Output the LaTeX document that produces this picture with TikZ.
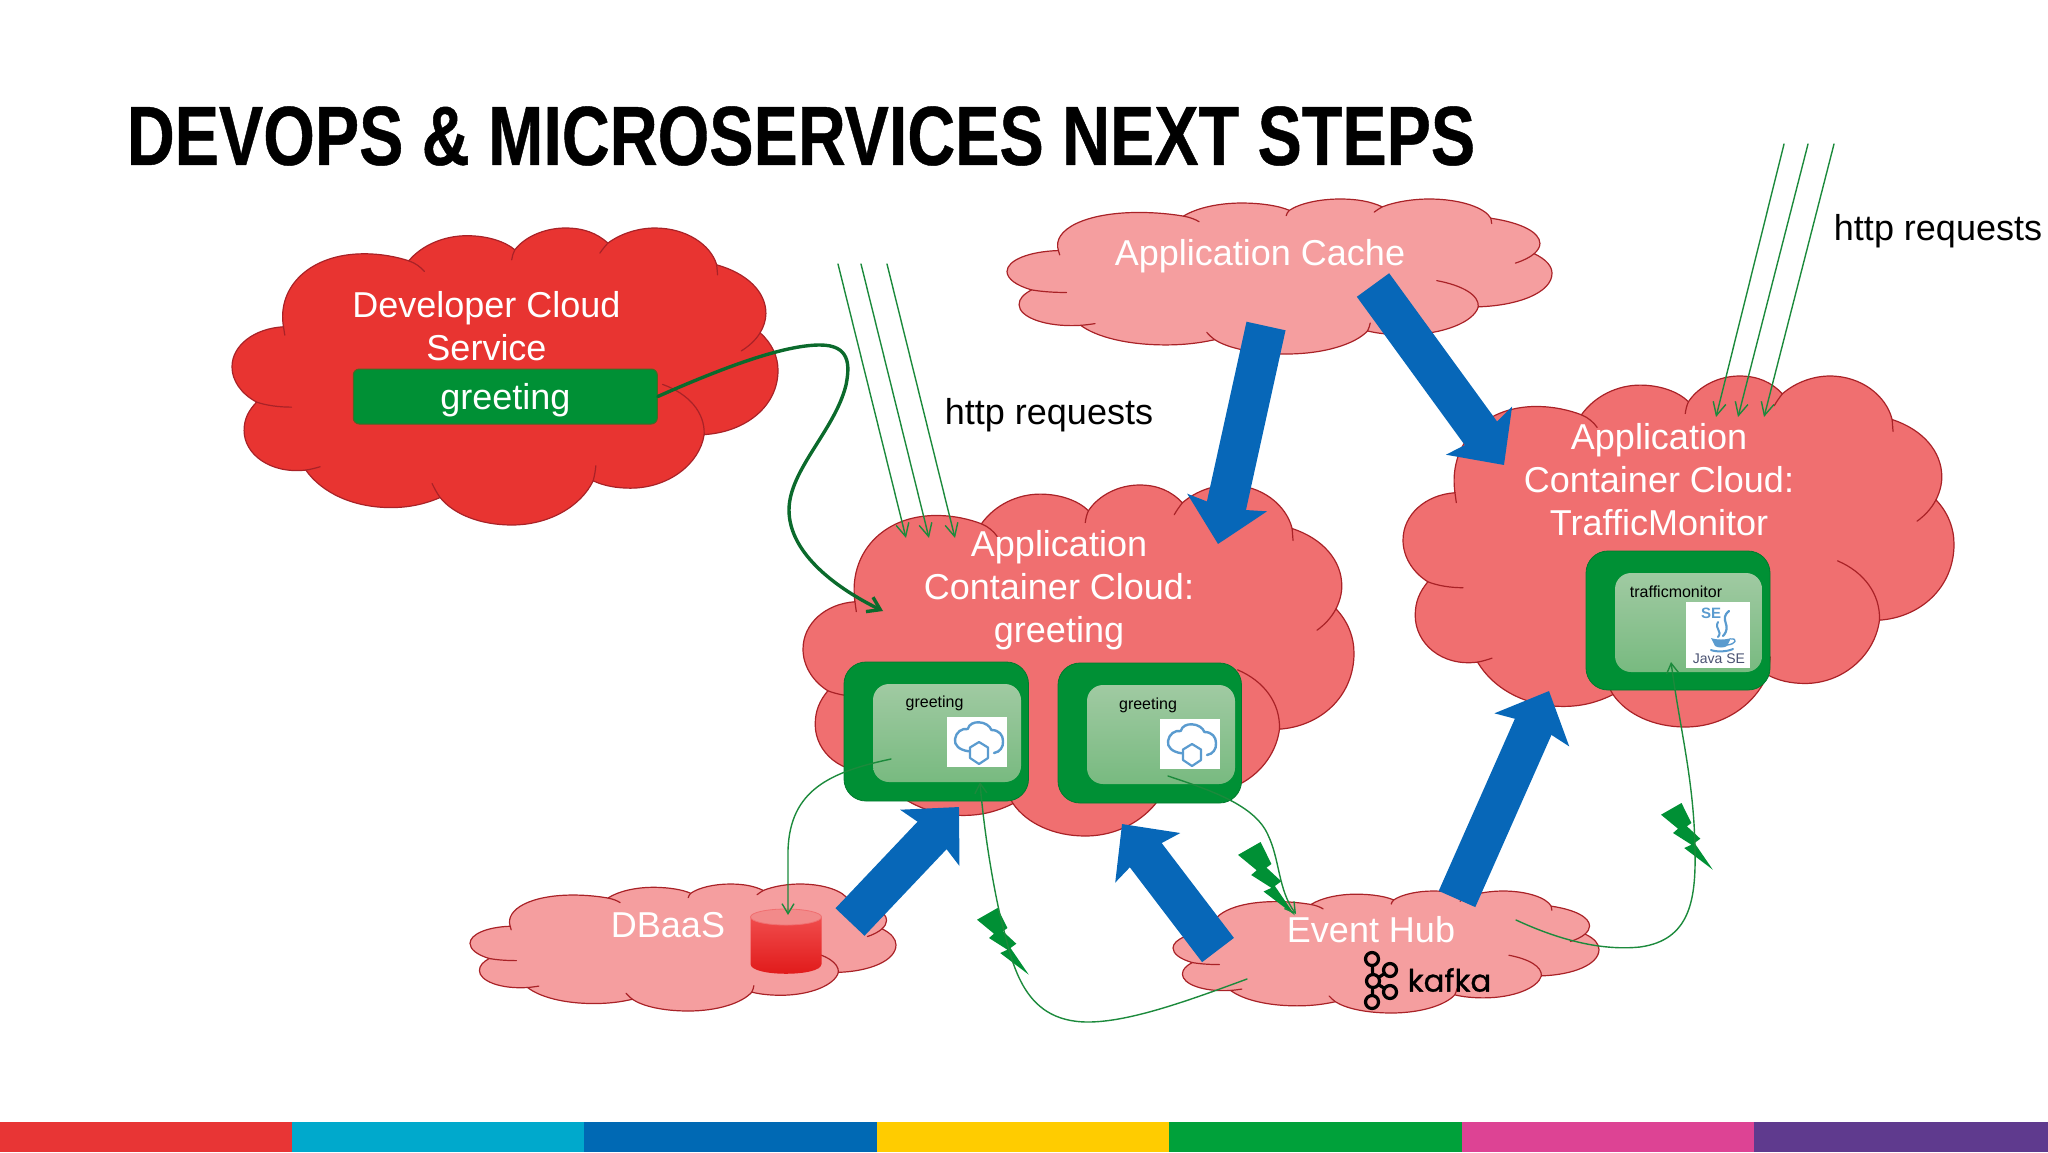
\documentclass[tikz,border=0pt]{standalone}
\usepackage{fontspec}
\setmainfont{Liberation Sans}
\newfontfamily\titlefont[FakeStretch=0.79,BoldFeatures={FakeBold=0.5}]{Liberation Sans}
\newfontfamily\kafkafont[FakeBold=1]{Poppins}
\usepackage{xcolor}
\usetikzlibrary{arrows.meta}
\tikzset{>=latex}
\definecolor{myred}{HTML}{E83431}
\definecolor{mysalmon}{HTML}{F06F70}
\definecolor{mypale}{HTML}{F59E9F}
\definecolor{myedge}{HTML}{A92227}
\definecolor{mygreen}{HTML}{009035}
\definecolor{mydarkgreen}{HTML}{0B6A2C}
\definecolor{mythin}{HTML}{1C8A3C}
\definecolor{myblue}{HTML}{0767B8}
\definecolor{myicon}{HTML}{5A9BCF}
\definecolor{myinnertop}{HTML}{A0CAA2}
\definecolor{myinnerbottom}{HTML}{78BA80}
\definecolor{mybarrel}{HTML}{F04C4C}
\definecolor{mybarrelend}{HTML}{E01818}
\definecolor{mylid}{HTML}{F28A8A}
\definecolor{myjava}{HTML}{4A5272}

\begin{document}
\begin{tikzpicture}[x=0.5pt, y=-0.5pt,
                    line cap=round, line join=round,
                    cloudedge/.style={myedge, line width=0.6pt},
                    lightlabel/.style={white, font=\fontsize{18}{21.5}\selectfont, align=center, inner sep=0pt},
                    darklabel/.style={black, font=\fontsize{18}{21.5}\selectfont, inner sep=0pt},
                    smalllabel/.style={black, font=\fontsize{8}{9}\selectfont, inner sep=0pt},
                    bigarrow/.style={myblue, line width=20pt, line cap=butt, line join=miter,
                                     -{Stealth[width=40pt,length=21pt,inset=3pt]}},
                    httpline/.style={mythin, line width=0.7pt, -{Straight Barb[length=6.5pt,width=6.5pt]}},
                    eventline/.style={mythin, line width=0.7pt, -{Straight Barb[length=5pt,width=6pt]}},
                    deployline/.style={mydarkgreen, line width=1.7pt, -{Straight Barb[length=6pt,width=8pt]}},
                    outerbox/.style={draw=mygreen!85!black, line width=0.4pt, fill=mygreen, rounded corners=11pt},
                    innerbox/.style={top color=myinnertop, bottom color=myinnerbottom, rounded corners=8pt},
                    greenbar/.style={draw=mygreen!70!red, line width=0.5pt, fill=mygreen, rounded corners=3pt, minimum width=152pt,
                                     minimum height=27.5pt, inner sep=0pt, text depth=0pt, text=white, font=\fontsize{18}{21.5}\selectfont},
                    iconbox/.style={fill=white}]

  \def\drawCloud#1#2#3#4#5{ % left, top, width, height, fill
    \begin{scope}[shift={(#1,#2)}, xscale=#3/1220, yscale=#4/887, shift={(-75,-145)}]
      \draw[cloudedge,fill=#5] (130,665)
        .. controls (95,640) and (75,600) .. (75,560) .. controls (75,495) and (125,445) .. (190,440)
        .. controls (175,320) and (250,222) .. (370,222) .. controls (410,222) and (445,232) .. (470,243)
        .. controls (500,195) and (550,168) .. (600,168) .. controls (645,168) and (685,185) .. (707,210)
        .. controls (730,170) and (775,145) .. (820,145) .. controls (860,145) and (890,160) .. (915,190)
        .. controls (945,160) and (985,145) .. (1020,145) .. controls (1090,145) and (1145,195) .. (1158,255)
        .. controls (1225,280) and (1268,335) .. (1268,400) .. controls (1268,420) and (1263,440) .. (1255,458)
        .. controls (1282,490) and (1295,530) .. (1295,570) .. controls (1295,680) and (1220,755) .. (1130,762)
        .. controls (1120,850) and (1050,922) .. (965,922) .. controls (935,922) and (905,915) .. (882,900)
        .. controls (855,975) and (785,1032) .. (700,1032) .. controls (630,1032) and (570,1000) .. (540,950)
        .. controls (505,970) and (470,980) .. (430,980) .. controls (345,980) and (275,935) .. (240,868)
        .. controls (160,880) and (102,820) .. (102,750) .. controls (102,715) and (112,690) .. (130,665) -- cycle;
      % inner arcs of the lobes
      \draw[cloudedge] (190,440) -- (193,465);
      \draw[cloudedge] (470,243) .. controls (485,250) and (497,262) .. (505,275);
      \draw[cloudedge] (707,210) .. controls (703,220) and (701,230) .. (700,240);
      \draw[cloudedge] (915,190) .. controls (908,200) and (902,210) .. (897,220);
      \draw[cloudedge] (1158,255) -- (1160,285);
      \draw[cloudedge] (1255,458) .. controls (1245,480) and (1230,498) .. (1213,512);
      \draw[cloudedge] (1130,762) .. controls (1132,695) and (1095,640) .. (1037,612);
      \draw[cloudedge] (882,900) .. controls (885,885) and (887,870) .. (888,855);
      \draw[cloudedge] (540,950) .. controls (533,937) and (527,922) .. (522,908);
      \draw[cloudedge] (240,868) .. controls (250,866) and (262,862) .. (272,858);
      \draw[cloudedge] (130,665) .. controls (152,675) and (180,680) .. (208,680);
    \end{scope}
  }
  \def\drawBolt#1#2#3{ % left, top, size
    \fill[mygreen,shift={(#1,#2)},scale=#3] (0,11.7) -- (20.5,0) -- (30.4,20) -- (25.9,23.3) -- (39.3,35.7) -- (33.5,40)
      -- (51.8,66.7) -- (23.2,45) -- (30.4,41.7) -- (12,30) -- (17,25.7) -- cycle;
  }
  \def\drawCloudIcon#1#2{ % corner of the white square
    \begin{scope}[shift={(#1,#2)}]
      \fill[iconbox] (0,0) rectangle (59.5,50);
      \draw[myicon,line width=1.2pt] (21.8,34.3) .. controls (12,33) and (7,28) .. (8,22)
        .. controls (9,15) and (15,11) .. (20.7,12) .. controls (22,7) and (27,5) .. (32,5.3)
        .. controls (38,5.5) and (43,9) .. (44.4,13) .. controls (52,13) and (56,18) .. (56,24)
        .. controls (56.5,30) and (53,35) .. (47,36);
      \draw[myicon,line width=1.1pt] (32,25) -- (41,30.5) -- (41,41) -- (32,47) -- (23,41) -- (23,30.5) -- cycle;
    \end{scope}
  }

  % CLOUDS
  \drawCloud{232}{228}{546}{297}{myred}
  \drawCloud{1007}{199}{545}{155}{mypale}
  \drawCloud{803}{485}{551}{351}{mysalmon}
  \drawCloud{1403}{376}{551}{351}{mysalmon}
  \drawCloud{470}{884}{426}{127}{mypale}
  \drawCloud{1173}{891}{426}{122}{mypale}

  % CONTAINERS
  \draw[outerbox] (844,662) rectangle (1028.5,801);
  \path[innerbox] (873,684) rectangle (1021,782);
  \drawCloudIcon{947}{717}
  \draw[outerbox] (1058,663) rectangle (1241.5,803);
  \path[innerbox] (1087,685) rectangle (1235,784);
  \drawCloudIcon{1160}{719}
  \draw[outerbox] (1586,551) rectangle (1770,690);
  \path[innerbox] (1615,573) rectangle (1762,672);
  \fill[iconbox] (1686,602) rectangle (1750,668);

  % JAVA CUP
  \draw[myicon,line width=1.1pt] (1729,611) .. controls (1718,620) and (1733,625) .. (1723,636);
  \draw[myicon,line width=1pt] (1718,622) .. controls (1714,629) and (1723,631) .. (1718,637);
  \fill[myicon] (1711,638) .. controls (1716,640) and (1726,640) .. (1731,638) -- (1727,646) .. controls (1724,648) and (1718,648) .. (1715,646) -- cycle;
  \draw[myicon,line width=0.7pt] (1731,639) .. controls (1737,638) and (1737,644) .. (1727,645);
  \draw[myicon,line width=1pt] (1711,650) .. controls (1716,652) and (1726,652) .. (1733,649);

  % BIG ARROWS
  \coordinate (cacheOutA) at (1266,326);
  \coordinate (greetingIn) at (1218,544);
  \coordinate (cacheOutB) at (1373,285);
  \coordinate (trafficIn) at (1504,465);
  \coordinate (dbOut) at (850,922);
  \coordinate (boxAIn) at (959,807);
  \coordinate (hubOutA) at (1218,950);
  \coordinate (boxBIn) at (1122,824);
  \coordinate (hubOutB) at (1457,899);
  \coordinate (trafficBelow) at (1549,691);
  \draw[bigarrow] (cacheOutA) -- (greetingIn);
  \draw[bigarrow] (cacheOutB) -- (trafficIn);
  \draw[bigarrow] (dbOut) -- (boxAIn);
  \draw[bigarrow] (hubOutA) -- (boxBIn);
  \draw[bigarrow] (hubOutB) -- (trafficBelow);

  % DATABASE
  \coordinate (dbCenter) at (786,917);
  \path[top color=mybarrel, bottom color=mybarrelend] (750.5,917) -- (750.5,964)
    .. controls (750.5,977) and (821.5,977) .. (821.5,964) -- (821.5,917) -- cycle;
  \draw[fill=mylid, draw=mysalmon] (dbCenter) ellipse (35.5 and 8);

  % LABELS
  \node[lightlabel] (devLabel) at (486.5,326) {Developer Cloud\\Service};
  \node[greenbar] (devBar) at (505.3,396.5) {greeting};
  \node[lightlabel] (cacheLabel) at (1260,256) {Application Cache};
  \node[lightlabel] (greetingLabel) at (1059,590) {Application\\Container Cloud:\\greeting};
  \node[lightlabel] (trafficLabel) at (1659,480) {Application\\Container Cloud:\\TrafficMonitor};
  \node[lightlabel] (dbLabel) at (668,925) {DBaaS};
  \node[lightlabel] (hubLabel) at (1371,930) {Event Hub};
  \node[darklabel] (httpLabelA) at (1049,415) {http requests};
  \node[darklabel] (httpLabelB) at (1938,231) {http requests};
  \node[smalllabel] (boxALabel) at (934.6,703) {greeting};
  \node[smalllabel] (boxBLabel) at (1148,705) {greeting};
  \node[smalllabel] (trafficBoxLabel) at (1676,592) {trafficmonitor};
  \node[font=\fontsize{7}{8}\selectfont, text=myjava, inner sep=0pt] (javaLabel) at (1719,659) {Java SE};
  \node[font=\bfseries\fontsize{7.5}{8}\selectfont, text=myicon, inner sep=0pt] (seLabel) at (1711,613) {SE};
  \node[font=\titlefont\bfseries\fontsize{42}{42}\selectfont, inner sep=0pt] (titleLabel) at (801,136) {DEVOPS \& MICROSERVICES NEXT STEPS};

  % KAFKA
  \foreach \i/\px/\py in {a/1372/959, b/1373/981, c/1372/1002, d/1390/970, e/1390/992}{
    \coordinate (kafka\i) at (\px,\py);
  }
  \draw[black,line width=1.6pt] (kafkaa) -- (kafkab) -- (kafkac) (kafkab) -- (kafkad) (kafkab) -- (kafkae);
  \foreach \i in {a,b,c,d,e}{
    \draw[black,line width=1.6pt,fill=mypale] (kafka\i) circle (6.5);
  }
  \node[font=\kafkafont\fontsize{15.4}{15.4}\selectfont, inner sep=0pt] (kafkaLabel) at (1449.5,980) {kafka};

  % HTTP REQUESTS
  \foreach \i/\xa/\xb in {1/838/906, 2/861/929, 3/887/955}{
    \coordinate (httpStart\i) at (\xa,264);
    \coordinate (httpEnd\i) at (\xb,538);
    \draw[httpline] (httpStart\i) -- (httpEnd\i);
  }
  \foreach \i/\xa/\xb in {1/1784/1716, 2/1808/1738, 3/1834/1764}{
    \coordinate (trafficStart\i) at (\xa,144);
    \coordinate (trafficEnd\i) at (\xb,417);
    \draw[httpline] (trafficStart\i) -- (trafficEnd\i);
  }

  % EVENTS
  \drawBolt{977}{908}{1}
  \drawBolt{1238}{842}{1.1}
  \drawBolt{1661}{803}{1}

  \coordinate (deployEnd) at (883,611);
  \draw[deployline] (devBar.east) .. controls (740,360) and (790,345) .. (820,345) .. controls (850,345) and (850,365) .. (846,385)
    .. controls (835,430) and (789,470) .. (789,510) .. controls (789,555) and (840,590) .. (deployEnd);

  \coordinate (boxADb) at (891,759);
  \coordinate (dbIn) at (788,915);
  \draw[eventline] (boxADb) .. controls (830,772) and (790,790) .. (788,850) -- (dbIn);

  \coordinate (hubToA) at (1247,979);
  \coordinate (boxAEvent) at (980,782);
  \draw[eventline] (hubToA) .. controls (1190,1000) and (1130,1022) .. (1088,1022) .. controls (1020,1022) and (1012,960) .. (1000,915)
    .. controls (990,870) and (983,820) .. (boxAEvent);

  \coordinate (boxBHub) at (1168,776);
  \coordinate (hubIn) at (1296,914);
  \draw[eventline] (boxBHub) .. controls (1210,790) and (1255,805) .. (1268,835) .. controls (1280,860) and (1278,890) .. (hubIn);

  \coordinate (hubToTraffic) at (1516,920);
  \coordinate (trafficEvent) at (1671,662);
  \draw[eventline] (hubToTraffic) .. controls (1570,945) and (1610,950) .. (1640,947) .. controls (1690,940) and (1696,900) .. (1695,850)
    .. controls (1694,780) and (1680,730) .. (trafficEvent);

  % COLOUR BAND
  \foreach \xa/\xb/\bandcolor in {0/292/E83535, 292/584/00A9CC, 584/877/0069B4, 877/1169/FFCC00,
                                  1169/1462/00A13A, 1462/1754/DD4394, 1754/2048/5F3A8E}{
    \definecolor{mybandcolor}{HTML}{\bandcolor}
    \fill[mybandcolor] (\xa,1122) rectangle (\xb,1152);
  }

  \useasboundingbox (0,0) rectangle (2048,1152);
\end{tikzpicture}
\end{document}
